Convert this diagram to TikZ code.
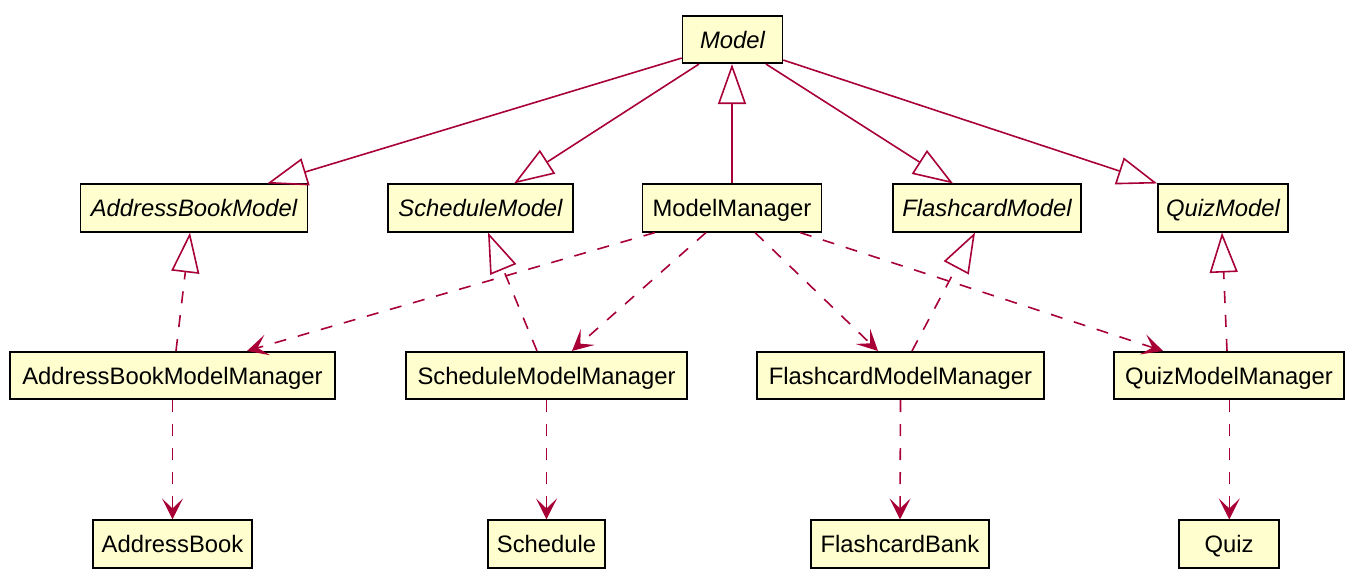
\documentclass[tikz,border=0pt]{standalone}
\usepackage{fontspec}
\setmainfont{Liberation Sans}
\usetikzlibrary{arrows.meta}
\definecolor{umlred}{HTML}{A80036}
\definecolor{boxfill}{HTML}{FEFECE}
\begin{document}
\begin{tikzpicture}[x=1pt,y=-1pt,
  cls/.style={draw=black, fill=boxfill, line width=1.6pt, inner sep=0pt,
    minimum height=47.5pt, text height=17pt, text depth=0pt,
    font=\fontsize{23.8}{28}\selectfont},
  abs/.style={cls, font=\fontsize{23.8}{28}\selectfont\itshape},
  gen/.style={draw=umlred, line width=1.6pt, -{Triangle[open, length=40pt, width=28pt]}},
  real/.style={gen, dash pattern=on 12pt off 12pt},
  dep/.style={draw=umlred, line width=1.6pt, dash pattern=on 12pt off 12pt,
    -{Stealth[length=21pt, width=21pt, inset=10pt]}}]
\fill[white] (0,0) rectangle (1362,584);
\useasboundingbox (0,0) rectangle (1362,584);

% row 1
\node[abs, minimum width=100pt] (Model) at (732.5,39.5) {Model};
% row 2
\node[abs, minimum width=227pt] (ABM) at (194,208) {AddressBookModel};
\node[abs, minimum width=185pt] (SM) at (480.5,208) {ScheduleModel};
\node[cls, minimum width=179pt] (MM) at (732,208) {ModelManager};
\node[abs, minimum width=188pt] (FM) at (987,208) {FlashcardModel};
\node[abs, minimum width=130pt] (QM) at (1223,208) {QuizModel};
% row 3
\node[cls, minimum width=325pt] (ABMM) at (172.5,375.5) {AddressBookModelManager};
\node[cls, minimum width=281pt] (SMM) at (546.5,375.5) {ScheduleModelManager};
\node[cls, minimum width=287pt] (FMM) at (900.5,375.5) {FlashcardModelManager};
\node[cls, minimum width=230pt] (QMM) at (1229,375.5) {QuizModelManager};
% row 4
\node[cls, minimum width=159pt] (AB) at (172.5,544) {AddressBook};
\node[cls, minimum width=117pt] (S) at (546.5,544) {Schedule};
\node[cls, minimum width=178pt] (FB) at (900,544) {FlashcardBank};
\node[cls, minimum width=100pt] (Q) at (1229,544) {Quiz};

% generalisations from Model
\draw[gen] ([yshift=6pt]Model.south west) -- ([xshift=-41pt]ABM.north east);
\draw[gen] ([xshift=-33.5pt]Model.south) -- ([xshift=33.5pt]SM.north);
\draw[gen] (MM.north) -- (MM.north |- Model.south);
\draw[gen] ([xshift=33.5pt]Model.south) -- ([xshift=-34pt]FM.north);
\draw[gen] ([yshift=4pt]Model.south east) -- (QM.north west);

% realisations
\draw[real] ([xshift=3.5pt]ABMM.north) -- ([xshift=-4pt]ABM.south);
\draw[real] ([xshift=-9.5pt]SMM.north) -- ([xshift=7.5pt]SM.south);
\draw[real] ([xshift=11.5pt]FMM.north) -- ([xshift=-12pt]FM.south);
\draw[real] ([xshift=-2pt]QMM.north) -- ([xshift=-1pt]QM.south);

% dependencies from ModelManager
\draw[dep] ([xshift=-77pt]MM.south) -- ([xshift=74.5pt]ABMM.north);
\draw[dep] ([xshift=-26pt]MM.south) -- ([xshift=25.5pt]SMM.north);
\draw[dep] ([xshift=23pt]MM.south) -- ([xshift=-22.5pt]FMM.north);
\draw[dep] ([xshift=68pt]MM.south) -- ([xshift=-66pt]QMM.north);

% dependencies to data classes
\draw[dep] (ABMM.south) -- (AB.north);
\draw[dep] (SMM.south) -- (S.north);
\draw[dep] (FMM.south) -- (FB.north);
\draw[dep] ([xshift=0.3pt]QMM.south) -- ([xshift=0.3pt]Q.north);
\end{tikzpicture}
\end{document}
